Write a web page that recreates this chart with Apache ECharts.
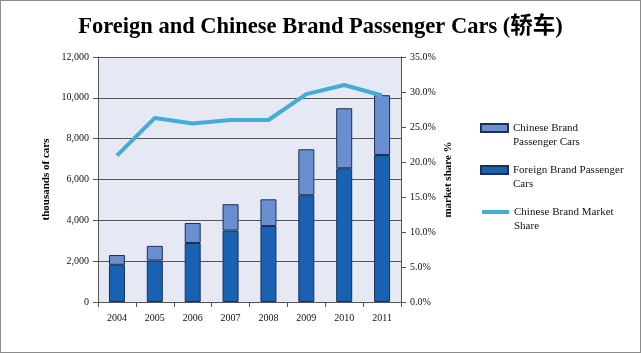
<!DOCTYPE html>
<html>
<head>
<meta charset="utf-8">
<script src="https://cdn.jsdelivr.net/npm/echarts@6/dist/echarts.min.js"></script>
<style>
  html, body { margin: 0; padding: 0; background: #fff; }
  #main { width: 641px; height: 353px; box-sizing: border-box; border: 1px solid #8c8c8c; }
</style>
</head>
<body>
<div id="main"></div>
<script>
// years on the x axis
const years = ['2004', '2005', '2006', '2007', '2008', '2009', '2010', '2011'];
// thousands of cars
const foreignCars = [1820, 2030, 2890, 3500, 3720, 5230, 6550, 7200];
const chineseCars = [480, 720, 980, 1290, 1310, 2250, 2940, 2930];
// chinese brand market share
const marketShare = [0.209, 0.263, 0.255, 0.26, 0.26, 0.297, 0.31, 0.295];

// leading empty line keeps the swatch level with the first text line
const legendText = {
    'Chinese Brand Passenger Cars': '\nChinese Brand\nPassenger Cars',
    'Foreign Brand Passenger Cars': '\nForeign Brand Passenger\nCars',
    'Chinese Brand Market Share': '\nChinese Brand Market\nShare'
};

const serif = '"Liberation Serif", "DejaVu Serif", serif';

// one legend per item, so each can sit where it does in the picture
const legendBox = (name, top, extra) => Object.assign({
    orient: 'vertical',
    left: 479,
    top: top,
    padding: 0,
    itemWidth: 27,
    itemHeight: 8,
    data: [name],
    formatter: n => legendText[n],
    textStyle: { fontFamily: serif, fontSize: 11, color: '#111', lineHeight: 14 }
}, extra || {});

const chart = echarts.init(document.getElementById('main'));

chart.setOption({
    animation: false,
    title: {
        text: 'Foreign and Chinese Brand Passenger Cars (轿车)',
        left: 'center',
        top: 10,
        textStyle: { fontFamily: serif + ', "Noto Sans CJK SC"', fontSize: 22.5, fontWeight: 'bold', color: '#000' }
    },
    legend: [
        legendBox('Chinese Brand Passenger Cars', 106, { icon: 'rect' }),
        legendBox('Foreign Brand Passenger Cars', 148, { icon: 'rect' }),
        legendBox('Chinese Brand Market Share', 190, {
            data: [{ name: 'Chinese Brand Market Share', itemStyle: { opacity: 0 }, lineStyle: { width: 4 } }]
        })
    ],
    grid: { left: 97, right: 239, top: 56, bottom: 50, show: true, backgroundColor: '#e6e9f3', borderWidth: 0 },
    xAxis: {
        type: 'category',
        data: years,
        axisLine: { lineStyle: { color: '#555' } },
        axisTick: { show: true, alignWithLabel: false, length: 5, lineStyle: { color: '#555' } },
        axisLabel: { fontFamily: serif, fontSize: 10, color: '#111', margin: 11 }
    },
    yAxis: [
        {
            type: 'value',
            min: 0,
            max: 12000,
            interval: 2000,
            name: 'thousands of cars',
            nameLocation: 'middle',
            nameGap: 46,
            nameTextStyle: { fontFamily: serif, fontSize: 11, fontWeight: 'bold', color: '#000' },
            axisLine: { show: true, lineStyle: { color: '#555' } },
            axisTick: { show: true, length: 5, lineStyle: { color: '#555' } },
            axisLabel: { fontFamily: serif, fontSize: 10, color: '#111', margin: 9, formatter: v => v.toLocaleString('en-US') },
            splitLine: { lineStyle: { color: '#555', width: 1 } }
        },
        {
            type: 'value',
            min: 0,
            max: 0.35,
            interval: 0.05,
            name: 'market share %',
            nameLocation: 'middle',
            nameGap: 42,
            nameRotate: 90,
            nameTextStyle: { fontFamily: serif, fontSize: 11, fontWeight: 'bold', color: '#000' },
            axisLine: { show: true, lineStyle: { color: '#555' } },
            axisTick: { show: true, length: 5, lineStyle: { color: '#555' } },
            axisLabel: { fontFamily: serif, fontSize: 10, color: '#111', margin: 9, formatter: v => (v * 100).toFixed(1) + '%' },
            splitLine: { show: false }
        }
    ],
    series: [
        {
            name: 'Foreign Brand Passenger Cars',
            type: 'bar',
            stack: 'cars',
            barWidth: 16,
            data: foreignCars,
            itemStyle: { color: '#1962b3', borderColor: '#1c2f55', borderWidth: 1 }
        },
        {
            name: 'Chinese Brand Passenger Cars',
            type: 'bar',
            stack: 'cars',
            barWidth: 16,
            data: chineseCars,
            itemStyle: { color: '#6a8fd0', borderColor: '#1c2f55', borderWidth: 1 }
        },
        {
            name: 'Chinese Brand Market Share',
            type: 'line',
            yAxisIndex: 1,
            data: marketShare,
            symbol: 'none',
            lineStyle: { color: '#45acd8', width: 4 },
            itemStyle: { color: '#45acd8' }
        }
    ]
});
</script>
</body>
</html>
